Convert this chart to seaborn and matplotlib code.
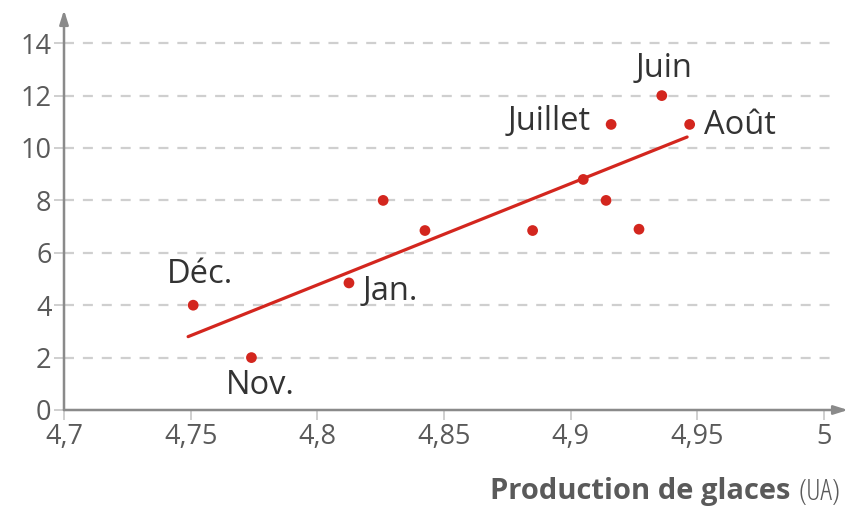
import matplotlib
matplotlib.use("Agg")
import matplotlib.pyplot as plt
import seaborn as sns
import pandas as pd

# Monthly observations: ice-cream production (UA) vs. second variable
production = [4.751, 4.774, 4.8125, 4.826, 4.8425, 4.885, 4.905, 4.914, 4.927, 4.916, 4.936, 4.947]
valeurs = [4.0, 2.0, 4.85, 8.0, 6.85, 6.85, 8.8, 8.0, 6.9, 10.9, 12.0, 10.9]
mois = ["Déc.", "Nov.", "Jan.", "", "", "", "", "", "", "Juillet", "Juin", "Août"]

# Trend line end points
trend_x = [4.749, 4.946]
trend_y = [2.8, 10.42]

x_ticks = [4.7, 4.75, 4.8, 4.85, 4.9, 4.95, 5.0]
x_tick_labels = ["4,7", "4,75", "4,8", "4,85", "4,9", "4,95", "5"]
y_ticks = [0, 2, 4, 6, 8, 10, 12, 14]

RED = "#d3261e"
AXIS = "#8a8a8a"
GRID = "#cfcfcf"
TICKTXT = "#5a5a5a"
LABEL = "#333333"

sns.set_theme(style="white")
plt.rcParams["font.family"] = ["Open Sans", "DejaVu Sans"]

W, H = 866, 508
fig = plt.figure(figsize=(W / 100, H / 100), dpi=100)
left_px, bottom_px, right_px, top_px = 64, 410, 848, 10
ax = fig.add_axes([left_px / W, (H - bottom_px) / H,
                   (right_px - left_px) / W, (bottom_px - top_px) / H])
ax.set_xlim(4.7, 4.7 + (right_px - left_px) / 2533)
ax.set_ylim(0, (bottom_px - top_px) / 26.2)

for s in ax.spines.values():
    s.set_visible(False)

# dashed horizontal guides
grid_end = 4.7 + (830 - left_px) / 2533
ax.hlines([t for t in y_ticks if t > 0], 4.7, grid_end, colors=GRID,
          linestyles=(0, (4.5, 4)), linewidth=1.6, zorder=0)

# axes with arrow heads
arrow = dict(arrowstyle="-|>,head_length=0.7,head_width=0.22",
             color=AXIS, lw=1.8, shrinkA=0, shrinkB=0)
ax.annotate("", xy=(1.0, 0), xytext=(0, 0), xycoords="axes fraction", arrowprops=arrow)
ax.annotate("", xy=(0, 1.0), xytext=(0, 0), xycoords="axes fraction", arrowprops=arrow)

df = pd.DataFrame({"production": production, "valeur": valeurs, "mois": mois})
trend = pd.DataFrame({"x": trend_x, "y": trend_y})

sns.lineplot(data=trend, x="x", y="y", ax=ax, color=RED, linewidth=2.3, zorder=3)
sns.scatterplot(data=df, x="production", y="valeur", ax=ax, color=RED,
                s=60, edgecolor="none", zorder=4)

# month labels
offsets = {
    "Juin": (2, 27, "center"),
    "Juillet": (-20, 3, "right"),
    "Août": (14, -1, "left"),
    "Déc.": (7, 31, "center"),
    "Jan.": (14, -9, "left"),
    "Nov.": (9, -28, "center"),
}
for xv, yv, m in zip(production, valeurs, mois):
    if m in offsets:
        dx, dy, ha = offsets[m]
        ax.annotate(m, xy=(xv, yv), xytext=(dx, dy), textcoords="offset pixels",
                    ha=ha, va="center", fontsize=23.5, color=LABEL)

ax.set_xticks(x_ticks)
ax.set_xticklabels(x_tick_labels)
ax.set_yticks(y_ticks)
ax.tick_params(axis="both", colors=GRID, length=7, width=1.4,
               labelcolor=TICKTXT, labelsize=19.5, pad=2, bottom=True, left=True)
ax.set_xlabel("")
ax.set_ylabel("")

# axis title, bold part followed by unit
t_ua = fig.text(840 / W, 1 - 492 / H, "(UA)", ha="right", va="center",
                fontsize=21, color=TICKTXT, fontstretch="condensed")
ax.annotate("Production de glaces ", xy=(0, 0.5), xycoords=t_ua, ha="right",
            va="center", fontsize=21, fontweight="bold", color=TICKTXT,
            fontstretch="condensed", annotation_clip=False)

fig.savefig("out.png", dpi=100)
